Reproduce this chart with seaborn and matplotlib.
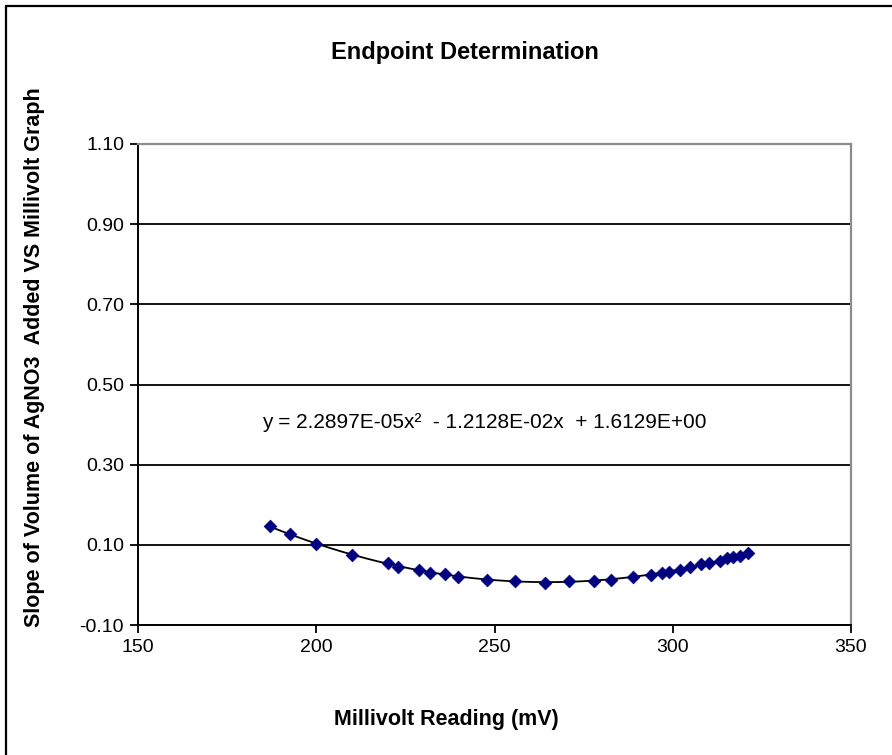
import numpy as np
import pandas as pd
import matplotlib
matplotlib.use("Agg")
import matplotlib.pyplot as plt
from matplotlib.lines import Line2D
import seaborn as sns

# Millivolt readings and the slope of titrant volume at each reading
millivolts = [187.0, 192.6, 199.9, 210.0, 220.1, 222.9, 228.8, 231.9, 236.1, 239.8,
              247.9, 255.7, 264.2, 270.9, 277.9, 282.7, 288.8, 293.9, 297.0, 298.9,
              302.0, 304.8, 307.9, 310.2, 313.3, 315.2, 316.9, 318.9, 321.1]
slopes = [0.147, 0.127, 0.102, 0.075, 0.055, 0.045, 0.037, 0.030, 0.027, 0.020,
          0.012, 0.010, 0.005, 0.010, 0.010, 0.012, 0.020, 0.025, 0.030, 0.032,
          0.037, 0.045, 0.052, 0.055, 0.060, 0.067, 0.070, 0.072, 0.080]

# Second-order polynomial trendline coefficients (a*x^2 + b*x + c)
trend_coeffs = [2.2897e-05, -1.2128e-02, 1.6129e+00]

x_ticks = [150, 200, 250, 300, 350]
y_ticks = [-0.10, 0.10, 0.30, 0.50, 0.70, 0.90, 1.10]

points = pd.DataFrame({"mV": millivolts, "slope": slopes})
xs = np.linspace(min(millivolts), max(millivolts), 200)
trend = pd.DataFrame({"mV": xs, "slope": np.polyval(trend_coeffs, xs)})

sns.set_theme(style="white")
plt.rcParams["font.family"] = ["Liberation Sans", "DejaVu Sans"]
plt.rcParams["text.color"] = "black"
plt.rcParams["xtick.color"] = "black"
plt.rcParams["ytick.color"] = "black"
plt.rcParams["axes.labelcolor"] = "black"

W, H = 892, 755
fig = plt.figure(figsize=(W / 100, H / 100), dpi=100)
ax = fig.add_axes([138 / W, 1 - 625 / H, (851 - 138) / W, (625 - 144) / H])

# horizontal gridlines
for yv in y_ticks[1:-1]:
    ax.axhline(yv, color="black", lw=1.3, zorder=1)

sns.lineplot(data=trend, x="mV", y="slope", ax=ax, color="black", lw=1.3,
             zorder=2, legend=False)
sns.scatterplot(data=points, x="mV", y="slope", ax=ax, marker="D", s=42,
                color="#000080", edgecolor="#000080", linewidth=0.5, zorder=3,
                legend=False)

ax.set_xlim(150, 350)
ax.set_ylim(-0.10, 1.10)
ax.set_xticks(x_ticks)
ax.set_yticks(y_ticks)
ax.set_xticklabels([str(v) for v in x_ticks], fontsize=14)
ax.set_yticklabels([f"{v:.2f}" for v in y_ticks], fontsize=14)
ax.tick_params(axis="both", direction="out", length=6, width=1.3, color="black",
               labelcolor="black", bottom=True, left=True, pad=4)
ax.set_xlabel("")
ax.set_ylabel("")

for side in ("left", "bottom"):
    ax.spines[side].set_color("black")
    ax.spines[side].set_linewidth(1.4)
for side in ("top", "right"):
    ax.spines[side].set_color("#8c8c8c")
    ax.spines[side].set_linewidth(1.6)

ax.text(247, 0.406, "y = 2.2897E-05x²  - 1.2128E-02x  + 1.6129E+00",
        ha="center", va="center", fontsize=15, color="black")

fig.text(465 / W, 1 - 52 / H, "Endpoint Determination", ha="center", va="center",
         fontsize=17, fontweight="bold", color="black")
fig.text(446 / W, 1 - 719 / H, "Millivolt Reading (mV)", ha="center", va="center",
         fontsize=15.5, fontweight="bold", color="black")
fig.text(35 / W, 1 - 357 / H, "Slope of Volume of AgNO3  Added VS Millivolt Graph",
         ha="center", va="center", rotation=90, fontsize=15.5, fontweight="bold",
         color="black")

# chart-area frame
fig.add_artist(Line2D([5.5 / W, 5.5 / W], [0, 1 - 6 / H], transform=fig.transFigure,
                      color="black", lw=1.6))
fig.add_artist(Line2D([5.5 / W, 1], [1 - 6 / H, 1 - 6 / H], transform=fig.transFigure,
                      color="black", lw=1.6))

fig.savefig("out.png", dpi=100, facecolor="white")
